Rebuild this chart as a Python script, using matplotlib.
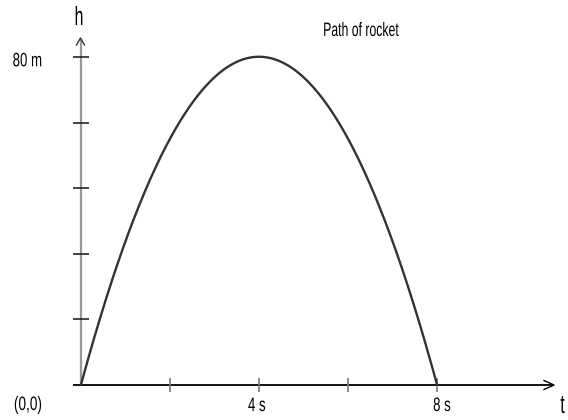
import numpy as np
import matplotlib
matplotlib.use("Agg")
import matplotlib.pyplot as plt
from matplotlib.patheffects import AbstractPathEffect
from matplotlib.transforms import Affine2D

# Height of the rocket (m) read at half-second steps
time_s = [0, 0.5, 1, 1.5, 2, 2.5, 3, 3.5, 4, 4.5, 5, 5.5, 6, 6.5, 7, 7.5, 8]
height_m = [0, 19, 35, 49, 60, 69, 75, 79, 80, 79, 75, 69, 60, 49, 35, 19, 0]

x_ticks = [2, 4, 6, 8]
y_ticks = [16, 32, 48, 64, 80]
x_tick_labels = ["4 s", "8 s"]
x_label_values = [4, 8]
y_tick_labels = ["80 m"]
y_label_values = [80]

plt.rcParams["font.family"] = ["Liberation Sans", "DejaVu Sans"]


class Condensed(AbstractPathEffect):
    """Squeeze glyph outlines horizontally about their own centre."""

    def __init__(self, sx):
        super().__init__()
        self.sx = sx

    def draw_path(self, renderer, gc, tpath, affine, rgbFace=None):
        ext = tpath.get_extents()
        cx = 0.5 * (ext.x0 + ext.x1)
        squeeze = Affine2D().translate(-cx, 0).scale(self.sx, 1).translate(cx, 0)
        renderer.draw_path(gc, tpath, squeeze + affine, rgbFace)


def narrow(sx=0.68):
    return [Condensed(sx)]


W, H = 568, 420
fig = plt.figure(figsize=(W / 100, H / 100), dpi=100)

# overlay in pixel coordinates for axis lines, arrows and labels
ov = fig.add_axes([0, 0, 1, 1])
ov.set_xlim(0, W)
ov.set_ylim(H, 0)
ov.axis("off")

# data axes: origin at (81, 385), t=8 at x=437, h=80 at y=57.3
x0, y0, x1, y1 = 81, 385, 437, 57.3
ax = fig.add_axes([x0 / W, (H - y0) / H, (x1 - x0) / W, (y0 - y1) / H])
ax.set_xlim(0, 8)
ax.set_ylim(0, 80)
ax.axis("off")
ax.patch.set_alpha(0)

# axis lines with open arrow heads
ov.plot([81, 81], [385, 40], color="#999999", lw=1.6, solid_capstyle="butt")
ov.plot([76.5, 80.5, 84.5], [45, 38, 45], color="#333333", lw=1.0)
ov.plot([73, 553], [385, 385], color="black", lw=1.3, solid_capstyle="butt")
ov.plot([544, 554, 544], [380.5, 385, 389.5], color="black", lw=1.0)

# ticks
ax.plot(x_ticks, [0] * len(x_ticks), ls="none", marker="|", ms=9.4, mew=1.2,
        color="#777777", clip_on=False)
ax.plot([0] * len(y_ticks), y_ticks, ls="none", marker="_", ms=11, mew=1.2,
        color="#222222", clip_on=False)

# rocket path: quadratic fit through the readings
coef = np.polyfit(time_s, height_m, 2)
tt = np.linspace(min(time_s), max(time_s), 400)
ax.plot(tt, np.polyval(coef, tt), color="#333333", lw=1.7, clip_on=False,
        solid_capstyle="round")

# tick labels, offset from their ticks in pixels
x_label_offsets = [(-2, -26), (5, -26)]
for v, s, off in zip(x_label_values, x_tick_labels, x_label_offsets):
    ax.annotate(s, (v, 0), xytext=off, textcoords="offset pixels",
                ha="center", va="baseline", fontsize=14, path_effects=narrow())
for v, s in zip(y_label_values, y_tick_labels):
    ax.annotate(s, (0, v), xytext=(-53.5, -9), textcoords="offset pixels",
                ha="center", va="baseline", fontsize=14, path_effects=narrow())

ov.text(28, 410, "(0,0)", ha="center", va="baseline", fontsize=14,
        path_effects=narrow(0.7))
ov.text(79, 25, "h", ha="center", va="baseline", fontsize=19,
        path_effects=narrow(0.6))
ov.text(562.5, 413, "t", ha="center", va="baseline", fontsize=19,
        path_effects=narrow(0.6))
ov.text(361, 36, "Path of rocket", ha="center", va="baseline", fontsize=14,
        path_effects=narrow(0.63))

fig.savefig("out.png", dpi=100)
